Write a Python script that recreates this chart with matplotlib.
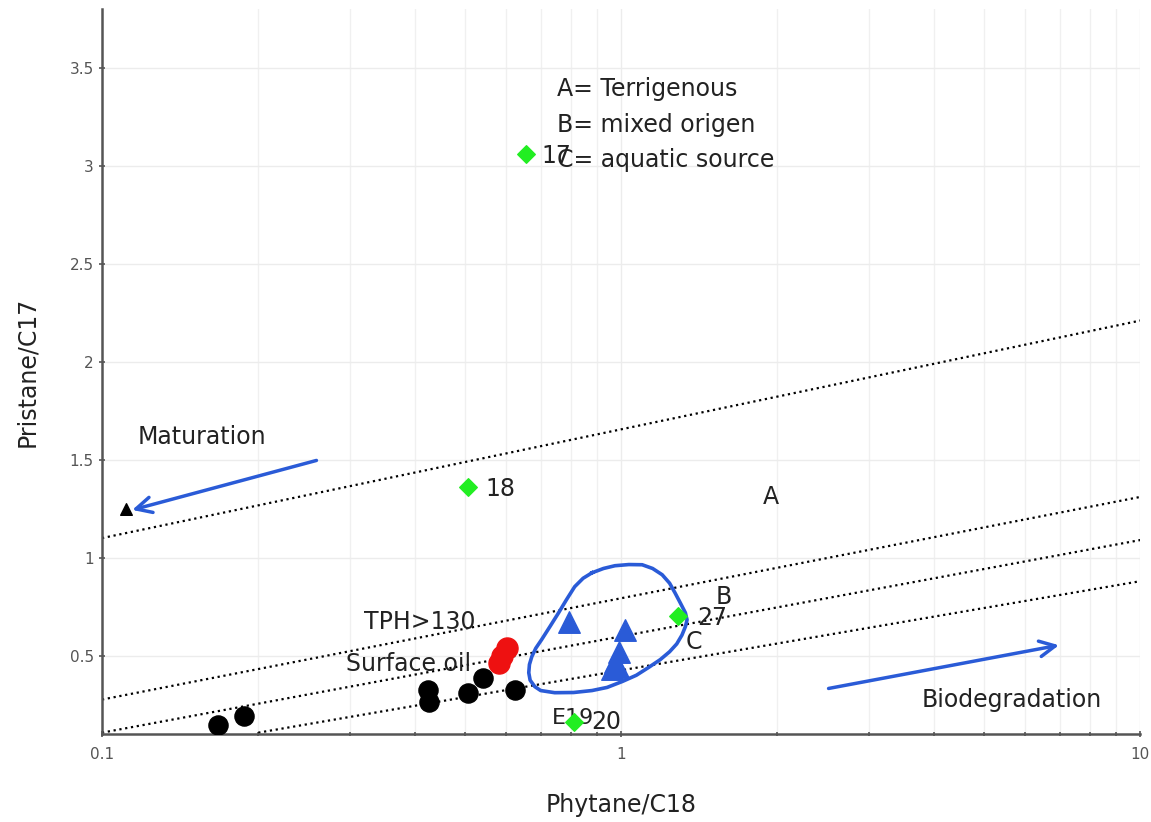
import matplotlib
matplotlib.use('Agg')
import matplotlib.pyplot as plt

# samples (Phytane/C18, Pristane/C17)
black_x = [0.167, 0.188, 0.425, 0.427, 0.506, 0.543, 0.624]
black_y = [0.148, 0.194, 0.327, 0.265, 0.311, 0.388, 0.327]

red_x = [0.602, 0.59, 0.581]
red_y = [0.541, 0.50, 0.464]

tri_x = [0.795, 1.018, 0.99, 0.975, 0.985, 0.96]
tri_y = [0.673, 0.633, 0.52, 0.47, 0.44, 0.43]

green_x = [0.655, 0.506, 1.29, 0.81]
green_y = [3.06, 1.36, 0.70, 0.163]
green_lbl = ['17', '18', '27', '20']
green_lbl_xy = [(0.703, 3.05), (0.548, 1.35), (1.40, 0.69), (0.875, 0.163)]

mat_x, mat_y = [0.111], [1.25]

# dotted boundary lines (endpoints)
bound_lines = [
    ([0.1, 10], [1.10, 2.21]),
    ([0.1, 10], [0.276, 1.31]),
    ([0.1, 10], [0.107, 1.09]),
    ([0.2, 10], [0.107, 0.88]),
]

# hand-drawn outline around the triangles
loop_x = [0.879, 0.925, 0.973, 1.035, 1.098, 1.15, 1.20, 1.24, 1.27, 1.30, 1.33,
          1.34, 1.33, 1.31, 1.28, 1.24, 1.19, 1.13, 1.07, 1.005, 0.94,
          0.879, 0.81, 0.745, 0.70, 0.682, 0.668, 0.664, 0.666, 0.673, 0.685,
          0.703, 0.73, 0.758, 0.785, 0.814, 0.845, 0.879]
loop_y = [0.923, 0.945, 0.959, 0.965, 0.964, 0.945, 0.913, 0.87, 0.821, 0.77, 0.719,
          0.683, 0.648, 0.605, 0.56, 0.520, 0.48, 0.440, 0.40, 0.368, 0.338,
          0.322, 0.312, 0.311, 0.322, 0.342, 0.375, 0.413, 0.455, 0.495, 0.538,
          0.582, 0.65, 0.719, 0.786, 0.852, 0.895, 0.923]

blue = '#2a5bd7'
txt = '#222222'

fig = plt.figure(figsize=(11.51, 8.22), dpi=100)
ax = fig.add_axes([0.0886, 0.107, 0.902, 0.882])
ax.set_xscale('log')
ax.set_xlim(0.1, 10)
ax.set_ylim(0.1, 3.8)

ax.grid(True, which='major', color='#ececec', lw=1)
ax.grid(True, which='minor', axis='x', color='#f0f0f0', lw=1)
ax.set_axisbelow(True)

for s in ['top', 'right']:
    ax.spines[s].set_visible(False)
for s in ['left', 'bottom']:
    ax.spines[s].set_color('#555555')
    ax.spines[s].set_linewidth(1.8)

ax.set_yticks([0.5, 1, 1.5, 2, 2.5, 3, 3.5])
ax.set_yticklabels(['0.5', '1', '1.5', '2', '2.5', '3', '3.5'])
ax.set_xticks([0.1, 1, 10])
ax.set_xticklabels(['0.1', '1', '10'])
ax.tick_params(which='both', direction='inout', colors='#555555', labelsize=11,
               length=5, width=1.2)
ax.tick_params(which='minor', length=3)
ax.tick_params(axis='x', pad=7)

for lx, ly in bound_lines:
    ax.plot(lx, ly, color='black', ls=':', lw=1.6)

ax.plot(loop_x, loop_y, color=blue, lw=2.6, solid_joinstyle='round')

ax.scatter(black_x, black_y, s=190, color='black', zorder=4)
ax.scatter(red_x, red_y, s=230, color='#ee1111', zorder=4)
ax.scatter(tri_x, tri_y, s=240, marker='^', color=blue, zorder=4)
ax.scatter(green_x, green_y, s=80, marker='D', color='#22ee22', zorder=5)
ax.scatter(mat_x, mat_y, s=70, marker='^', color='black', zorder=5)

fs = 17
for lbl, (lx, ly) in zip(green_lbl, green_lbl_xy):
    ax.text(lx, ly, lbl, fontsize=fs, color=txt, va='center', ha='left', zorder=6)

ax.text(0.751, 3.39, 'A= Terrigenous', fontsize=fs, color=txt, va='center')
ax.text(0.751, 3.21, 'B= mixed origen', fontsize=fs, color=txt, va='center')
ax.text(0.751, 3.03, 'C= aquatic source', fontsize=fs, color=txt, va='center')
ax.text(1.94, 1.31, 'A', fontsize=fs, color=txt, va='center', ha='center')
ax.text(1.52, 0.80, 'B', fontsize=fs, color=txt, va='center')
ax.text(1.33, 0.57, 'C', fontsize=fs, color=txt, va='center')
ax.text(0.735, 0.184, 'E19', fontsize=fs - 1, color=txt, va='center')
ax.text(0.117, 1.617, 'Maturation', fontsize=fs, color=txt, va='center')
ax.text(0.32, 0.673, 'TPH>130', fontsize=fs, color=txt, va='center')
ax.text(0.295, 0.459, 'Surface oil', fontsize=fs, color=txt, va='center')
ax.text(3.79, 0.276, 'Biodegradation', fontsize=fs, color=txt, va='center')

ax.annotate('', xy=(0.113, 1.24), xytext=(0.262, 1.50),
            arrowprops=dict(arrowstyle='->', color=blue, lw=2.5, mutation_scale=28))
ax.annotate('', xy=(7.06, 0.556), xytext=(2.48, 0.33),
            arrowprops=dict(arrowstyle='->', color=blue, lw=2.5, mutation_scale=28))

ax.set_xlabel('Phytane/C18', fontsize=17, color=txt, labelpad=22)
ax.set_ylabel('Pristane/C17', fontsize=17, color=txt, labelpad=22)

fig.savefig('out.png', dpi=100)
